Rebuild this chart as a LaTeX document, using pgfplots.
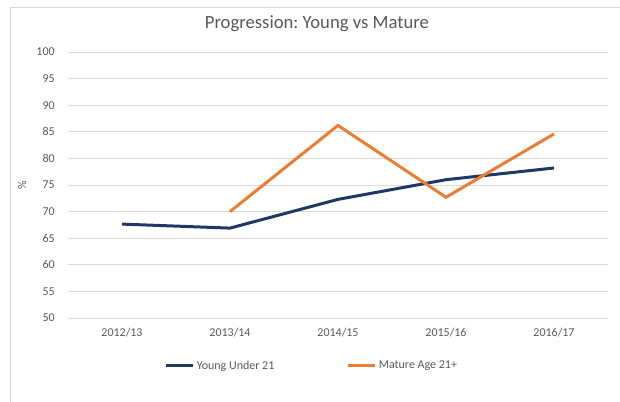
\documentclass[border=0pt]{standalone}
\usepackage{pgfplots}
\pgfplotsset{compat=1.18}
\usepackage{fontspec}
\setmainfont{Carlito}
\frenchspacing
\definecolor{young}{HTML}{203864}
\definecolor{mature}{HTML}{ED7D31}
\definecolor{gridc}{HTML}{D9D9D9}
\definecolor{txt}{HTML}{595959}
\begin{document}
\begin{tikzpicture}
\useasboundingbox (0,0) rectangle (465pt,300.75pt);
\draw[color=gridc, line width=0.75pt] (7.5pt,-1pt) -- (7.5pt,294.75pt) -- (470pt,294.75pt);
\begin{axis}[
  at={(51pt,62.25pt)}, anchor=south west,
  scale only axis, width=405pt, height=199.5pt,
  xmin=-0.5, xmax=4.5, ymin=50, ymax=100,
  xtick={0,1,2,3,4},
  xticklabels={2012/13,2013/14,2014/15,2015/16,2016/17},
  ytick={50,55,...,100},
  ymajorgrids, major grid style={color=gridc, line width=0.75pt},
  axis x line*=bottom, axis y line*=left,
  x axis line style={color=gridc, line width=0.75pt, -},
  y axis line style={draw=none},
  major tick length=0pt,
  tick label style={font=\fontsize{9}{11}\selectfont, text=txt},
  /pgf/number format/assume math mode=true,
  yticklabel style={anchor=east, inner sep=0pt, xshift=-9.75pt},
  xticklabel style={anchor=center, inner sep=0pt, yshift=-11.25pt},
  ylabel={\%},
  ylabel style={at={(axis description cs:-0.0852,0.5)}, anchor=center, font=\fontsize{9}{11}\selectfont, text=txt},
  title={Progression:\ Young vs Mature},
  title style={at={(axis description cs:0.461,1)}, anchor=center, yshift=15pt, font=\fontsize{14}{16}\selectfont, text=txt},
  legend style={at={(axis description cs:0.452,-0.18)}, anchor=center, draw=none, fill=none,
    font=\fontsize{9}{11}\selectfont, text=txt, legend columns=2,
    /tikz/every even column/.append style={column sep=52pt}},
  legend image code/.code={\draw[#1, line width=2.25pt] (0pt,0pt) -- (20pt,0pt);},
  unbounded coords=jump,
]
\addplot[color=young, line width=2.25pt] coordinates {(0,67.65) (1,66.9) (2,72.3) (3,76.0) (4,78.2)};
\addlegendentry{Young Under 21}
\addplot[color=mature, line width=2.25pt] coordinates {(1,70.0) (2,86.2) (3,72.7) (4,84.6)};
\addlegendentry{Mature Age 21+}
\end{axis}
\end{tikzpicture}
\end{document}
